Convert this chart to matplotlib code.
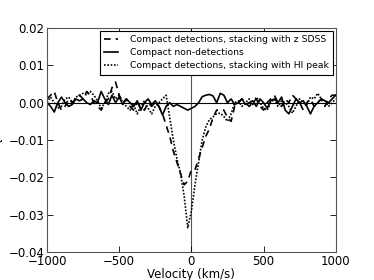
import matplotlib
matplotlib.use("Agg")
import matplotlib.pyplot as plt
import numpy as np

# velocity grid (km/s), 25 km/s channels
velocity = np.arange(-1000, 1001, 25)

# stacked optical depth, compact detections centred on SDSS redshift
tau_zsdss = [
    0.001, 0.002, 0.003, 0.000, -0.002, -0.001, 0.001, 0.000, 0.001, 0.002,
    0.001, 0.003, 0.002, 0.000, -0.001, -0.002, 0.000, 0.001, 0.004, 0.0055,
    0.002, 0.000, 0.001, -0.001, -0.002, 0.000, -0.001, -0.002, 0.000, -0.001,
    0.000, -0.001, -0.003, -0.006, -0.009, -0.013, -0.016, -0.019, -0.022, -0.021,
    -0.018, -0.018, -0.015, -0.012, -0.009, -0.007, -0.004, -0.002, -0.002, -0.002,
    -0.004, -0.005, -0.001, 0.000, 0.001, 0.000, -0.001, 0.000, 0.001, -0.001,
    -0.002, 0.000, 0.001, 0.002, 0.000, -0.001, 0.001, 0.000, 0.002, 0.001,
    0.000, -0.002, 0.000, 0.001, -0.001, 0.000, 0.001, -0.001, 0.001, 0.002,
    0.002,
]

# compact non-detections
tau_nondet = [
    0.000, -0.001, -0.0025, 0.000, 0.0015, 0.000, -0.001, -0.0005, 0.001, 0.0005,
    0.001, 0.000, -0.0005, 0.0005, 0.000, 0.003, 0.001, -0.0005, 0.002, 0.000,
    0.0015, -0.0005, 0.001, 0.000, -0.001, 0.0005, -0.002, 0.000, 0.001, -0.0005,
    0.0005, -0.001, -0.0033, -0.001, 0.000, -0.001, -0.0005, -0.001, -0.0015, -0.002,
    -0.0015, -0.001, 0.000, 0.0016, 0.002, 0.0022, 0.0018, 0.000, 0.0025, 0.002,
    0.000, 0.001, -0.0005, 0.000, 0.001, -0.0005, 0.000, 0.0005, -0.001, 0.001,
    0.000, -0.0015, 0.0005, 0.001, 0.000, 0.0015, -0.002, -0.003, -0.001, 0.001,
    0.000, 0.0005, -0.001, -0.003, -0.001, 0.000, 0.001, 0.0005, 0.000, 0.001,
    0.002,
]

# compact detections centred on HI peak
tau_hipeak = [
    0.000, 0.0015, 0.000, -0.0015, -0.001, 0.001, 0.0015, 0.000, 0.0015, 0.002,
    0.0025, 0.002, 0.003, 0.002, 0.0005, -0.0015, 0.000, 0.0025, 0.003, 0.001,
    0.002, 0.000, -0.001, -0.002, -0.0005, -0.003, -0.001, 0.0005, -0.0015, -0.003,
    -0.001, 0.000, 0.001, 0.002, -0.004, -0.010, -0.015, -0.019, -0.025, -0.0335,
    -0.029, -0.022, -0.016, -0.010, -0.0065, -0.0045, -0.0038, -0.003, -0.0028, -0.0037,
    -0.005, -0.003, 0.000, 0.0005, -0.001, 0.000, 0.001, -0.0005, 0.0015, 0.000,
    -0.0015, -0.002, 0.000, 0.001, -0.001, 0.0005, 0.000, -0.001, -0.0028, -0.001,
    0.001, 0.000, -0.0005, 0.0015, 0.001, 0.0025, 0.001, 0.0005, -0.001, 0.000,
    0.001,
]

xticks = [-1000, -500, 0, 500, 1000]
yticks = [-0.04, -0.03, -0.02, -0.01, 0.00, 0.01, 0.02]

fig = plt.figure(figsize=(3.74, 2.8), dpi=100)
ax = fig.add_axes([0.1257, 0.1, 0.772, 0.8])

ax.axvline(0, color="#555555", lw=0.8, zorder=1)
ax.axhline(0, color="black", lw=0.8, zorder=1)

ax.plot(velocity, tau_zsdss, color="black", ls=(0, (4, 3)), lw=1.2,
        label="Compact detections, stacking with z SDSS")
ax.plot(velocity, tau_nondet, color="black", ls="-", lw=1.2,
        label="Compact non-detections")
ax.plot(velocity, tau_hipeak, color="black", ls=(0, (1, 1)), lw=1.2,
        label="Compact detections, stacking with HI peak")

ax.set_xlim(-1000, 1000)
ax.set_ylim(-0.04, 0.02)
ax.set_xticks(xticks)
ax.set_yticks(yticks)
ax.set_yticklabels([f"{t:.2f}".replace("-", "\u2212") for t in yticks])

ax.tick_params(direction="in", top=True, right=True, length=4, width=0.6,
               labelsize=8.5, pad=2)
for s in ax.spines.values():
    s.set_linewidth(0.8)
    s.set_color("#555555")

ax.set_xlabel("Velocity (km/s)", fontsize=8.5, labelpad=0)
ax.set_ylabel(r"$\tau$", fontsize=8.5, labelpad=2)

leg = ax.legend(loc="upper right", fontsize=6.7, handlelength=1.5,
                borderpad=0.45, labelspacing=0.45, handletextpad=1.3,
                borderaxespad=0.3, fancybox=False, framealpha=1)
leg.get_frame().set_edgecolor("black")
leg.get_frame().set_linewidth(0.8)

fig.savefig("out.png", dpi=100)
